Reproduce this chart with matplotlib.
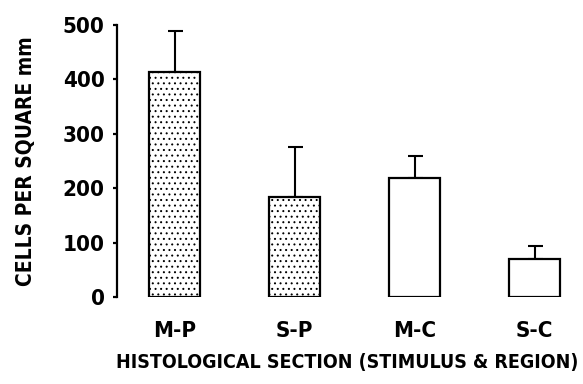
import matplotlib.pyplot as plt
import numpy as np

# Datos
secciones = ['M-P', 'S-P', 'M-C', 'S-C']
celulas = [414, 183, 218, 70]
error_sup = [75, 93, 41, 24]
yticks = [0, 100, 200, 300, 400, 500]

plt.rcParams['font.family'] = ['DejaVu Sans']
plt.rcParams['font.stretch'] = 'condensed'
plt.rcParams['font.weight'] = 'bold'
plt.rcParams['hatch.linewidth'] = 0.7
plt.rcParams['hatch.color'] = 'black'

fig = plt.figure(figsize=(5.83, 3.84), dpi=100)
ax = fig.add_axes([117 / 583, 1 - 297 / 384, 483 / 583, 272 / 384])

x = np.arange(len(secciones))
# las secciones de la region P van punteadas
rellenos = ['...' if s.endswith('P') else '' for s in secciones]
ax.bar(x, celulas, width=0.43, color='white', edgecolor='black',
       linewidth=1.6, hatch=rellenos, zorder=2)
ax.errorbar(x, celulas, yerr=[np.zeros(len(celulas)), error_sup], fmt='none',
            ecolor='black', elinewidth=1.5, capsize=5.4, capthick=1.5, zorder=1)

ax.set_xlim(-0.48, 3.545)
ax.set_ylim(0, 500)
ax.set_yticks(yticks)
ax.set_xticks(x)
ax.set_xticklabels(secciones)

for lado in ['top', 'right', 'bottom']:
    ax.spines[lado].set_visible(False)
ax.spines['left'].set_linewidth(1.6)
ax.tick_params(axis='y', direction='out', length=3, width=1.6, pad=6, labelsize=16)
ax.tick_params(axis='x', length=0, pad=17, labelsize=16)

ax.set_ylabel('CELLS PER SQUARE mm', fontsize=15, fontweight='bold', labelpad=19)
ax.set_xlabel('HISTOLOGICAL SECTION (STIMULUS & REGION)', fontsize=14,
              fontweight='bold', labelpad=9, x=0.476)

fig.savefig('out.png', dpi=100)
